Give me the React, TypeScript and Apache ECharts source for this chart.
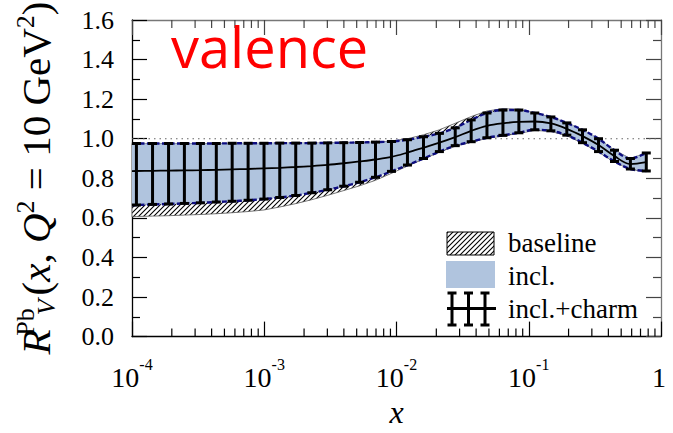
import React, { useEffect, useRef } from "react";
import * as echarts from "echarts";

// x positions of the incl.+charm error bars (log-spaced)
const barX = [
  1.08e-4, 1.43e-4, 1.89e-4, 2.49e-4, 3.29e-4, 4.34e-4, 5.72e-4, 7.55e-4,
  9.96e-4, 1.31e-3, 1.73e-3, 2.29e-3, 3.02e-3, 3.99e-3, 5.26e-3, 6.94e-3,
  9.16e-3, 1.21e-2, 1.6e-2, 2.11e-2, 2.78e-2, 3.67e-2, 4.83e-2, 6.38e-2,
  8.42e-2, 0.111, 0.147, 0.194, 0.255, 0.337, 0.445, 0.587, 0.774,
];
// band x positions: left edge of the axis + the bar positions
const bandX = [1e-4, ...barX];

// "incl." band (blue)
const inclUpper = [
  0.976, 0.976, 0.976, 0.976, 0.976, 0.976, 0.976, 0.977, 0.977, 0.977, 0.978,
  0.978, 0.978, 0.979, 0.98, 0.981, 0.983, 0.986, 0.995, 1.01, 1.027, 1.055,
  1.095, 1.13, 1.145, 1.145, 1.13, 1.11, 1.08, 1.045, 1.0, 0.942, 0.9, 0.928,
];
const inclLower = [
  0.663, 0.665, 0.668, 0.67, 0.673, 0.676, 0.68, 0.684, 0.689, 0.695, 0.703,
  0.713, 0.727, 0.742, 0.76, 0.78, 0.805, 0.835, 0.867, 0.9, 0.935, 0.965,
  0.985, 1.005, 1.017, 1.03, 1.045, 1.04, 1.018, 0.98, 0.935, 0.885, 0.847,
  0.837,
];
const central = [
  0.836, 0.837, 0.838, 0.839, 0.84, 0.841, 0.843, 0.845, 0.847, 0.85, 0.853,
  0.857, 0.862, 0.868, 0.876, 0.885, 0.895, 0.908, 0.93, 0.955, 0.98, 1.008,
  1.04, 1.065, 1.078, 1.085, 1.087, 1.077, 1.05, 1.013, 0.968, 0.912, 0.872,
  0.882,
];
// "baseline" band (hatched)
const baseUpper = [
  0.976, 0.976, 0.976, 0.976, 0.976, 0.976, 0.976, 0.977, 0.977, 0.977, 0.978,
  0.978, 0.978, 0.979, 0.98, 0.981, 0.983, 0.988, 1.0, 1.02, 1.045, 1.078,
  1.112, 1.14, 1.152, 1.148, 1.13, 1.11, 1.08, 1.045, 1.0, 0.942, 0.9, 0.928,
];
const baseLower = [
  0.605, 0.607, 0.609, 0.611, 0.614, 0.617, 0.621, 0.626, 0.632, 0.64, 0.655,
  0.672, 0.692, 0.714, 0.738, 0.762, 0.79, 0.825, 0.862, 0.897, 0.932, 0.962,
  0.982, 1.002, 1.014, 1.027, 1.042, 1.037, 1.015, 0.977, 0.932, 0.882, 0.844,
  0.834,
];
// "incl.+charm" error bars
const charmLower = [
  0.665, 0.668, 0.67, 0.673, 0.676, 0.68, 0.684, 0.689, 0.695, 0.703, 0.713,
  0.727, 0.742, 0.76, 0.78, 0.805, 0.835, 0.867, 0.9, 0.935, 0.965, 0.985,
  1.005, 1.017, 1.03, 1.045, 1.04, 1.018, 0.98, 0.935, 0.885, 0.847, 0.837,
];
const charmUpper = [
  0.976, 0.976, 0.976, 0.976, 0.976, 0.976, 0.977, 0.977, 0.977, 0.978, 0.978,
  0.978, 0.979, 0.98, 0.981, 0.983, 0.986, 0.995, 1.01, 1.027, 1.055, 1.095,
  1.13, 1.145, 1.145, 1.13, 1.11, 1.08, 1.045, 1.0, 0.942, 0.9, 0.928,
];

const refLine = 1.0;
const xMin = 1e-4;
const xMax = 1;
const yMin = 0;
const yMax = 1.6;
const xTickExponents = ["-4", "-3", "-2", "-1", ""];
const minorDecades = [-4, -3, -2, -1];
const minorMultipliers = [2, 3, 4, 5, 6, 7, 8, 9];
const legendLabels = ["baseline", "incl.", "incl.+charm"];
const titleText = "valence";

const SERIF = "Liberation Serif";

function makeHatch() {
  const s = 5;
  const c = document.createElement("canvas");
  c.width = s;
  c.height = s;
  const g = c.getContext("2d")!;
  g.fillStyle = "#fff";
  g.fillRect(0, 0, s, s);
  g.strokeStyle = "#000";
  g.lineWidth = 1.1;
  g.beginPath();
  g.moveTo(-1, s + 1);
  g.lineTo(s + 1, -1);
  g.moveTo(-1, 1);
  g.lineTo(1, -1);
  g.moveTo(s - 1, s + 1);
  g.lineTo(s + 1, s - 1);
  g.stroke();
  return {
    image: c.toDataURL(),
    repeat: "repeat",
    imageWidth: s,
    imageHeight: s,
  };
}

export default function App() {
  const ref = useRef<HTMLDivElement>(null);
  useEffect(() => {
    const chart = echarts.init(ref.current!, null, { renderer: "svg" });
    const hatch = makeHatch();
    const pts = (ys: number[]) => bandX.map((x, i) => [x, ys[i]]);
    const minorX = minorDecades.flatMap((d) =>
      minorMultipliers.map((m) => m * Math.pow(10, d))
    );
    const SM = 0.35;

    const bandSeries = (name: string, lo: number[], hi: number[], style: any, z: number) => ({
      type: "custom",
      name,
      z,
      silent: true,
      data: bandX.map((x, i) => [x, lo[i], hi[i]]),
      encode: { x: 0, y: [1, 2] },
      renderItem: (params: any, api: any) => {
        if (params.dataIndex !== 0) return null;
        const up = bandX.map((x, i) => api.coord([x, hi[i]]));
        const dn = bandX.map((x, i) => api.coord([x, lo[i]])).reverse();
        return { type: "polygon", shape: { points: [...up, ...dn] }, style };
      },
    });

    const xBase: any = {
      type: "log",
      logBase: 10,
      min: xMin,
      max: xMax,
      splitLine: { show: false },
      minorTick: { show: false },
    };
    const yBase: any = {
      type: "value",
      min: yMin,
      max: yMax,
      interval: 0.2,
      splitLine: { show: false },
    };

    const option: any = {
      animation: false,
      textStyle: { fontFamily: SERIF },
      grid: { left: 132, right: 8, top: 20, bottom: 93 },
      xAxis: [
        {
          ...xBase,
          position: "bottom",
          axisLine: { show: true, onZero: false, lineStyle: { color: "#000", width: 1.3 } },
          axisTick: { show: true, inside: true, length: 15, lineStyle: { color: "#000", width: 1.2 } },
          axisLabel: {
            show: true,
            margin: 20,
            fontFamily: SERIF,
            formatter: (v: number) => {
              const e = Math.round(Math.log10(v)) + 4;
              const sup = xTickExponents[e];
              return sup ? `{b|10}{s|${sup}}` : `{b|1}{s| }`;
            },
            rich: {
              b: { fontFamily: SERIF, fontSize: 28, color: "#000" },
              s: { fontFamily: SERIF, fontSize: 16, color: "#000", padding: [0, 0, 25, 0] },
            },
          },
          name: "x",
          nameLocation: "middle",
          nameGap: 58,
          nameTextStyle: { fontFamily: SERIF, fontStyle: "italic", fontSize: 32, color: "#000" },
        },
        {
          ...xBase,
          position: "top",
          axisLine: { show: true, onZero: false, lineStyle: { color: "#777", width: 1.3 } },
          axisTick: { show: true, inside: true, length: 15, lineStyle: { color: "#444", width: 1.2 } },
          axisLabel: { show: false },
        },
      ],
      yAxis: [
        {
          ...yBase,
          position: "left",
          axisLine: { show: true, onZero: false, lineStyle: { color: "#000", width: 1.3 } },
          axisTick: { show: true, inside: true, length: 15, lineStyle: { color: "#000", width: 1.2 } },
          minorTick: { show: true, splitNumber: 2, length: 8, lineStyle: { color: "#000", width: 1.2 } },
          axisLabel: {
            margin: 18,
            formatter: (v: number) => v.toFixed(1),
            fontFamily: SERIF,
            fontSize: 26,
            color: "#000",
          },
        },
        {
          ...yBase,
          position: "right",
          axisLine: { show: true, onZero: false, lineStyle: { color: "#777", width: 1.3 } },
          axisTick: { show: true, inside: true, length: 15, lineStyle: { color: "#444", width: 1.2 } },
          minorTick: { show: true, splitNumber: 2, length: 8, lineStyle: { color: "#444", width: 1.2 } },
          axisLabel: { show: false },
        },
      ],
      series: [
        {
          type: "line",
          name: "ref",
          data: [
            [xMin, refLine],
            [xMax, refLine],
          ],
          symbol: "none",
          silent: true,
          z: 0,
          lineStyle: { color: "#666", type: [1.5, 4], width: 1.2 },
        },
        // minor log ticks on bottom and top axes
        {
          type: "custom",
          name: "minorTicks",
          silent: true,
          z: 6,
          data: minorX.map((x) => [x, yMin]),
          encode: { x: 0, y: 1 },
          renderItem: (params: any, api: any) => {
            const x = api.value(0);
            const b = api.coord([x, yMin]);
            const t = api.coord([x, yMax]);
            return {
              type: "group",
              children: [
                { type: "line", shape: { x1: b[0], y1: b[1], x2: b[0], y2: b[1] - 8 }, style: { stroke: "#000", lineWidth: 1.2 } },
                { type: "line", shape: { x1: t[0], y1: t[1], x2: t[0], y2: t[1] + 8 }, style: { stroke: "#444", lineWidth: 1.2 } },
              ],
            };
          },
        },
        bandSeries("baseline", baseLower, baseUpper, { fill: hatch, stroke: "#555", lineWidth: 0.8 }, 1),
        bandSeries("incl.", inclLower, inclUpper, { fill: "#B0C4DE" }, 2),
        {
          type: "line",
          name: "inclUpperEdge",
          data: pts(inclUpper),
          smooth: SM,
          symbol: "none",
          silent: true,
          z: 3,
          lineStyle: { color: "#0d0d80", width: 2.4, type: [5, 2.5] },
        },
        {
          type: "line",
          name: "inclLowerEdge",
          data: pts(inclLower),
          smooth: SM,
          symbol: "none",
          silent: true,
          z: 3,
          lineStyle: { color: "#0d0d80", width: 2.4, type: [5, 2.5] },
        },
        {
          type: "custom",
          name: "incl.+charm",
          data: barX.map((x, i) => [x, charmLower[i], charmUpper[i]]),
          encode: { x: 0, y: [1, 2] },
          silent: true,
          z: 4,
          renderItem: (params: any, api: any) => {
            const x = api.value(0);
            const p1 = api.coord([x, api.value(1)]);
            const p2 = api.coord([x, api.value(2)]);
            const w = 4.5;
            const st = { stroke: "#000", lineWidth: 3 };
            return {
              type: "group",
              children: [
                { type: "line", shape: { x1: p1[0], y1: p1[1], x2: p2[0], y2: p2[1] }, style: st },
                { type: "line", shape: { x1: p1[0] - w, y1: p1[1], x2: p1[0] + w, y2: p1[1] }, style: st },
                { type: "line", shape: { x1: p2[0] - w, y1: p2[1], x2: p2[0] + w, y2: p2[1] }, style: st },
              ],
            };
          },
        },
        {
          type: "line",
          name: "central",
          data: pts(central),
          smooth: SM,
          symbol: "none",
          silent: true,
          z: 5,
          lineStyle: { color: "#000", width: 1.8 },
        },
      ],
      graphic: [
        {
          type: "text",
          x: 171,
          y: 46,
          z: 10,
          style: {
            text: titleText,
            fontFamily: "Open Sans",
            fontSize: 56,
            fill: "#ff0000",
            align: "left",
            verticalAlign: "middle",
          },
        },
        {
          type: "text",
          x: 36,
          y: 178,
          rotation: Math.PI / 2,
          z: 10,
          style: {
            text: "{R|R}{pb|Pb}{v|V}{n|(}{i|x}{n|, }{i|Q}{s|2}{n| = 10 GeV}{s|2}{n|)}",
            align: "center",
            verticalAlign: "middle",
            fontFamily: SERIF,
            fontSize: 41,
            fill: "#000",
            rich: {
              R: { fontFamily: SERIF, fontStyle: "italic", fontSize: 41, fill: "#000" },
              pb: { fontFamily: SERIF, fontSize: 26, width: 5, padding: [0, 0, 21, 5], fill: "#000" },
              v: { fontFamily: SERIF, fontStyle: "italic", fontSize: 26, width: 24, padding: [21, 0, 0, 0], fill: "#000" },
              n: { fontFamily: SERIF, fontSize: 41, fill: "#000" },
              i: { fontFamily: SERIF, fontStyle: "italic", fontSize: 41, fill: "#000" },
              s: { fontFamily: SERIF, fontSize: 26, padding: [0, 0, 21, 0], fill: "#000" },
            },
          },
        },
        // legend: baseline
        {
          type: "rect",
          z: 10,
          shape: { x: 447, y: 232, width: 47, height: 23 },
          style: { fill: hatch, stroke: "#000", lineWidth: 1 },
        },
        // legend: incl.
        {
          type: "rect",
          z: 10,
          shape: { x: 446, y: 261, width: 49, height: 27 },
          style: { fill: "#B0C4DE" },
        },
        // legend: incl.+charm
        {
          type: "group",
          z: 10,
          children: [
            { type: "line", shape: { x1: 447, y1: 308.5, x2: 496, y2: 308.5 }, style: { stroke: "#000", lineWidth: 3 } },
            ...[452, 468.5, 485].flatMap((cx) => [
              { type: "line", shape: { x1: cx, y1: 293, x2: cx, y2: 325 }, style: { stroke: "#000", lineWidth: 3 } },
              { type: "line", shape: { x1: cx - 4.5, y1: 293, x2: cx + 4.5, y2: 293 }, style: { stroke: "#000", lineWidth: 3 } },
              { type: "line", shape: { x1: cx - 4.5, y1: 325, x2: cx + 4.5, y2: 325 }, style: { stroke: "#000", lineWidth: 3 } },
            ]),
          ],
        },
        ...legendLabels.map((t, k) => ({
          type: "text",
          x: 508,
          y: [243, 276, 309][k],
          z: 10,
          style: {
            text: t,
            fontFamily: SERIF,
            fontSize: 27,
            fill: "#000",
            align: "left",
            verticalAlign: "middle",
          },
        })),
      ],
    };
    chart.setOption(option);
    return () => chart.dispose();
  }, []);
  return (
    <div
      ref={ref}
      style={{ position: "absolute", left: 0, top: 0, width: 673, height: 433 }}
    />
  );
}
